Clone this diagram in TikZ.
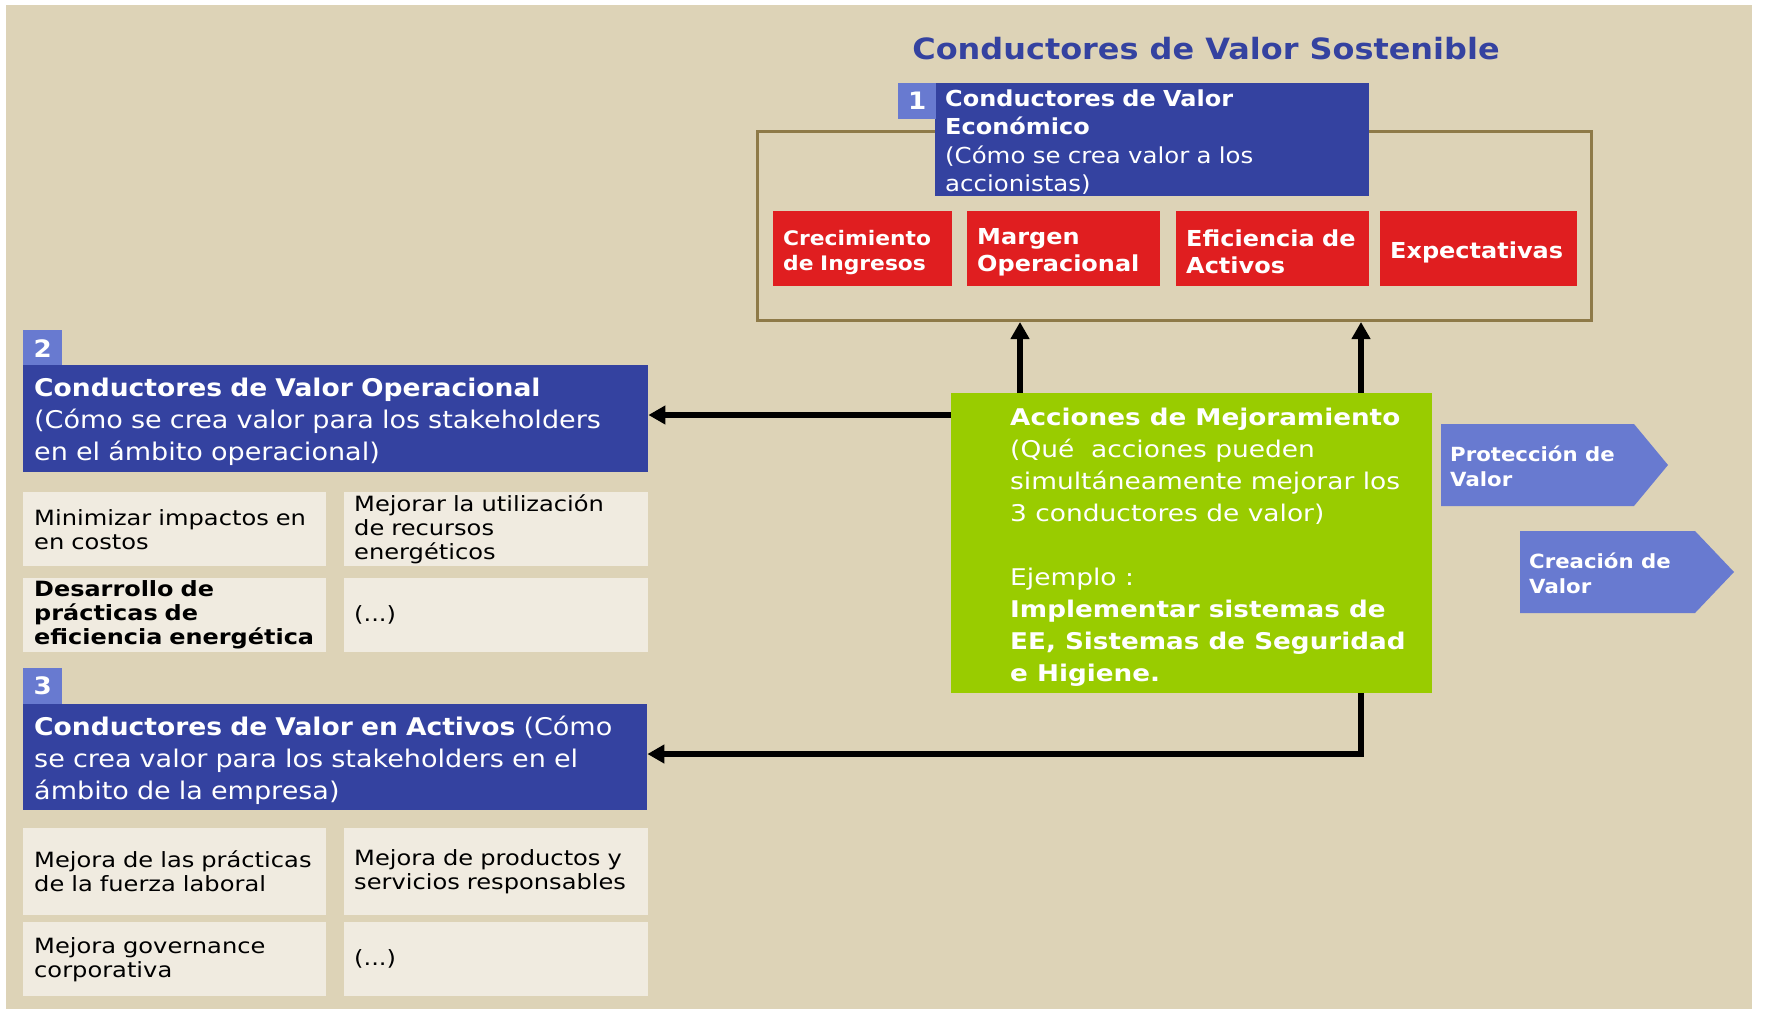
\documentclass[tikz,border=0pt]{standalone}
\usepackage{fontspec}
\setmainfont{DejaVu Sans}[FakeStretch=1.11, BoldFeatures={FakeStretch=1.09}]
\newfontfamily\widefont{DejaVu Sans}[FakeStretch=1.15, BoldFeatures={FakeStretch=1.14}]
\usetikzlibrary{arrows.meta}
\definecolor{bg}{RGB}{221,211,183}
\definecolor{dblue}{RGB}{52,66,160}
\definecolor{badgec}{RGB}{104,122,208}
\definecolor{redc}{RGB}{224,30,32}
\definecolor{greenc}{RGB}{153,204,0}
\definecolor{cellc}{RGB}{240,235,224}
\definecolor{brd}{RGB}{142,122,72}
\newcommand{\fs}[2]{\fontsize{#1}{#2}\selectfont}
\begin{document}
\begin{tikzpicture}[x=1pt,y=-1pt,
  box/.style={anchor=north west, inner ysep=0, align=left, font=\fs{24}{32}},
  lower/.style={execute at begin node={\rule{0pt}{#1}}},
  bluebox/.style={box, fill=dblue, text=white, inner xsep=10},
  badge/.style={anchor=north west, fill=badgec, text=white, inner sep=0, font=\bfseries\fs{24}{28}},
  redbox/.style={box, fill=redc, text=white, inner xsep=10, minimum height=75, font=\bfseries\fs{22}{27}, lower=23.5pt},
  cell/.style={box, fill=cellc, text=black, inner xsep=10, font=\widefont\fs{21}{24}},
  conn/.style={line width=5.5, -{Triangle[length=17,width=18]}},
  tagtext/.style={anchor=west, align=left, text=white, inner sep=0, font=\bfseries\fs{19.5}{25}}
]
\useasboundingbox (0,0) rectangle (1766,1009);
\fill[white] (0,0) rectangle (1766,1009);
\fill[bg] (6,5) rectangle (1752,1009);

% title
\node[anchor=center, text=dblue, font=\bfseries\fs{29.3}{36}] (title) at (1206,49) {Conductores de Valor Sostenible};

% group 1
\node[anchor=north west, draw=brd, line width=3, minimum width=834, minimum height=189, inner sep=0] (frame) at (756,130) {};
\node[bluebox, minimum width=434, minimum height=113, text width=414, font=\fs{22}{28.3}, lower=21.3pt] (b1) at (935,83)
  {\textbf{Conductores de Valor}\\\textbf{Económico}\\(Cómo se crea valor a los\\accionistas)};
\node[badge, minimum width=38, minimum height=36] (n1) at (898,83) {1};
\node[redbox, minimum width=179, text width=159, font=\bfseries\fs{20}{24.7}, lower=22pt] (r1) at (773,211) {Crecimiento\\de Ingresos};
\node[redbox, minimum width=193, text width=173] (r2) at (967,211) {Margen\\Operacional};
\node[redbox, minimum width=193, text width=173] (r3) at (1176,211) {Eficiencia de\\Activos};
\node[redbox, minimum width=197, text width=177] (r4) at (1380,211) {Expectativas};

% group 2
\node[badge, minimum width=39, minimum height=36] (n2) at (23,330) {2};
\node[bluebox, minimum width=625, minimum height=107, text width=603, inner xsep=11, font=\fs{24.35}{32}, lower=25.3pt] (b2) at (23,365)
  {\textbf{Conductores de Valor Operacional}\\(Cómo se crea valor para los stakeholders\\en el ámbito operacional)};
\node[cell, minimum width=303, minimum height=74, text width=281, inner xsep=11] (c1) at (23,492) {Minimizar impactos en\\en costos};
\node[cell, minimum width=304, minimum height=74, text width=284] (c2) at (344,492) {Mejorar la utilización\\de recursos\\energéticos};
\node[cell, minimum width=303, minimum height=74, text width=281, inner xsep=11, font=\widefont\bfseries\fs{21}{24}] (c3) at (23,578) {Desarrollo de\\prácticas de\\eficiencia energética};
\node[cell, minimum width=304, minimum height=74, text width=284] (c4) at (344,578) {(...)};

% group 3
\node[badge, minimum width=39, minimum height=36] (n3) at (23,668) {3};
\node[bluebox, minimum width=624, minimum height=106, text width=602, inner xsep=11, font=\fs{24.35}{32}, lower=25.3pt] (b3) at (23,704)
  {\textbf{Conductores de Valor en Activos} (Cómo\\se crea valor para los stakeholders en el\\ámbito de la empresa)};
\node[cell, minimum width=303, minimum height=87, text width=281, inner xsep=11] (c5) at (23,828) {Mejora de las prácticas\\de la fuerza laboral};
\node[cell, minimum width=304, minimum height=87, text width=284] (c6) at (344,828) {Mejora de productos y\\servicios responsables};
\node[cell, minimum width=303, minimum height=74, text width=281, inner xsep=11] (c7) at (23,922) {Mejora governance\\corporativa};
\node[cell, minimum width=304, minimum height=74, text width=284] (c8) at (344,922) {(...)};

% green action box
\node[anchor=north west, fill=greenc, minimum width=481, minimum height=300, inner sep=0] (green) at (951,393) {};
\node[anchor=west, align=left, text=white, inner sep=0, font=\widefont\fs{23}{32}] (greentext) at (1010,547.5)
  {\textbf{Acciones de Mejoramiento}\\(Qué\ \ acciones pueden\\simultáneamente mejorar los\\3 conductores de valor)\\[32pt]Ejemplo :\\\textbf{Implementar sistemas de}\\\textbf{EE, Sistemas de Seguridad}\\\textbf{e Higiene.}};

% value tags
\fill[badgec] (1441,424) -- (1634,424) -- (1668,465) -- (1634,506) -- (1441,506) -- cycle;
\node[tagtext] (prot) at (1450,466) {Protección de\\Valor};
\fill[badgec] (1520,531) -- (1695,531) -- (1734,572) -- (1695,613) -- (1520,613) -- cycle;
\node[tagtext] (crea) at (1529,573) {Creación de\\Valor};

% connectors
\coordinate (u1) at (1020,0);
\coordinate (u2) at (1361,0);
\coordinate (v1) at (0,415);
\coordinate (v2) at (0,754);
\draw[conn] (green.north -| u1) -- (frame.south -| u1);
\draw[conn] (green.north -| u2) -- (frame.south -| u2);
\draw[conn] (green.west |- v1) -- (b2.east |- v1);
\draw[conn] (green.south -| u2) |- (b3.east |- v2);
\end{tikzpicture}
\end{document}
